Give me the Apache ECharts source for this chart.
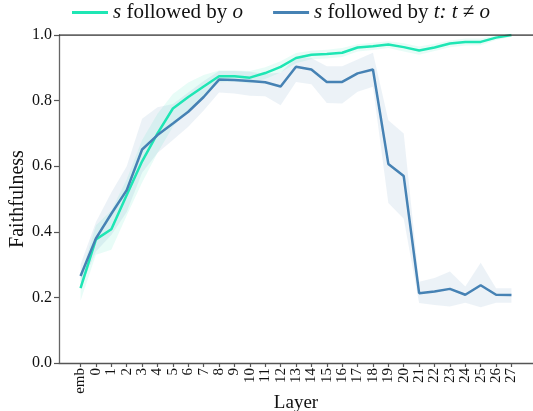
<!DOCTYPE html>
<html>
<head>
<meta charset="utf-8">
<script src="https://cdn.jsdelivr.net/npm/echarts@6/dist/echarts.min.js"></script>
<style>html,body{margin:0;padding:0;background:#fff;}#c{width:533px;height:411px;}</style>
</head>
<body>
<div id="c"></div>
<script>
const layers = ['emb','0','1','2','3','4','5','6','7','8','9','10','11','12','13','14','15','16','17','18','19','20','21','22','23','24','25','26','27'];

const sFollowedByO = [0.228,0.377,0.408,0.512,0.615,0.700,0.776,0.811,0.843,0.874,0.874,0.870,0.884,0.903,0.930,0.940,0.942,0.946,0.962,0.966,0.971,0.963,0.953,0.962,0.974,0.979,0.979,0.992,1.000];
const sFollowedByOUpper = [0.265,0.420,0.465,0.560,0.680,0.760,0.820,0.855,0.878,0.892,0.892,0.890,0.902,0.920,0.945,0.952,0.955,0.960,0.972,0.976,0.981,0.975,0.965,0.973,0.983,0.989,0.989,0.998,1.004];
const sFollowedByOLower = [0.190,0.330,0.345,0.450,0.550,0.640,0.720,0.770,0.810,0.855,0.858,0.852,0.866,0.886,0.914,0.926,0.928,0.933,0.950,0.954,0.960,0.950,0.940,0.951,0.963,0.968,0.969,0.985,0.995];

const sFollowedByT = [0.265,0.380,0.455,0.527,0.651,0.695,0.730,0.766,0.811,0.864,0.863,0.860,0.856,0.843,0.903,0.895,0.857,0.857,0.883,0.895,0.607,0.570,0.213,0.218,0.226,0.208,0.237,0.208,0.207];
const sFollowedByTUpper = [0.300,0.430,0.520,0.600,0.745,0.780,0.790,0.825,0.860,0.890,0.890,0.888,0.882,0.885,0.932,0.930,0.905,0.905,0.925,0.946,0.740,0.700,0.248,0.259,0.279,0.233,0.306,0.228,0.228];
const sFollowedByTLower = [0.230,0.340,0.390,0.460,0.580,0.640,0.680,0.720,0.770,0.825,0.822,0.815,0.813,0.786,0.857,0.850,0.793,0.791,0.827,0.842,0.488,0.440,0.183,0.177,0.172,0.184,0.170,0.184,0.184];

const GREEN = '#1ee6b4';
const BLUE = '#4682b4';

function bandSeries(upper, lower, color) {
  return {
    type: 'custom',
    silent: true,
    z: 1,
    data: [0],
    renderItem: function (params, api) {
      const pts = [];
      for (let i = 0; i < upper.length; i++) pts.push(api.coord([i, upper[i]]));
      for (let i = lower.length - 1; i >= 0; i--) pts.push(api.coord([i, lower[i]]));
      return {
        type: 'polygon',
        shape: { points: pts },
        style: { fill: color, opacity: 0.1, stroke: null }
      };
    },
    clip: true
  };
}

const chart = echarts.init(document.getElementById('c'), null, { renderer: 'canvas' });
const font = 'Liberation Serif';
chart.setOption({
  animation: false,
  textStyle: { fontFamily: font },
  grid: { left: 59, right: 0, top: 35, bottom: 48, containLabel: false, outerBoundsMode: 'none' },
  legend: {
    left: 72,
    top: 2,
    padding: 0,
    itemWidth: 36,
    itemHeight: 3,
    itemGap: 30,
    icon: 'rect',
    textStyle: {
      fontFamily: font, fontSize: 21, color: '#111',
      rich: { i: { fontFamily: font, fontStyle: 'italic', fontSize: 21, color: '#111' } }
    },
    data: [
      { name: 'o', itemStyle: { color: GREEN } },
      { name: 't', itemStyle: { color: BLUE } }
    ],
    formatter: function (n) {
      return n === 'o' ? '{i|s} followed by {i|o}' : '{i|s} followed by {i|t:} {i|t} \u2260 {i|o}';
    }
  },
  xAxis: {
    type: 'value',
    min: -1.4,
    max: 29.4,
    name: 'Layer',
    nameLocation: 'middle',
    nameGap: 31,
    nameMoveOverlap: false,
    nameTextStyle: { fontFamily: font, fontSize: 19, color: '#111', verticalAlign: 'top' },
    axisLine: { show: true, onZero: false, lineStyle: { color: '#555', width: 1.3 } },
    axisTick: { show: true, length: 4, lineStyle: { color: '#555', width: 1.2 }, customValues: layers.map((_, i) => i) },
    axisLabel: {
      rotate: 90,
      margin: 5,
      fontFamily: font,
      fontSize: 15,
      color: '#111',
      customValues: layers.map((_, i) => i),
      formatter: function (v) { return layers[Math.round(v)]; }
    },
    splitLine: { show: false }
  },
  yAxis: {
    type: 'value',
    min: 0,
    max: 1,
    interval: 0.2,
    name: 'Faithfulness',
    nameLocation: 'middle',
    nameGap: 31,
    nameMoveOverlap: false,
    nameTextStyle: { fontFamily: font, fontSize: 20, color: '#111' },
    axisLine: { show: true, onZero: false, lineStyle: { color: '#666', width: 1.3 } },
    axisTick: { show: true, length: 5, lineStyle: { color: '#555', width: 1.2 } },
    axisLabel: {
      margin: 7,
      fontFamily: font,
      fontSize: 16,
      color: '#111',
      formatter: function (v) { return v.toFixed(1); }
    },
    splitLine: { show: false }
  },
  series: [
    bandSeries(sFollowedByOUpper, sFollowedByOLower, GREEN),
    bandSeries(sFollowedByTUpper, sFollowedByTLower, BLUE),
    {
      name: 'o', type: 'line', z: 3,
      data: sFollowedByO.map((v, i) => [i, v]),
      showSymbol: false, symbol: 'none',
      lineStyle: { color: GREEN, width: 2.5 },
      itemStyle: { color: GREEN }
    },
    {
      name: 't', type: 'line', z: 4,
      data: sFollowedByT.map((v, i) => [i, v]),
      showSymbol: false, symbol: 'none',
      lineStyle: { color: BLUE, width: 2.5 },
      itemStyle: { color: BLUE }
    },
    {
      type: 'line', silent: true, z: 5,
      data: [[-1.4, 1], [29.4, 1]],
      symbol: 'none',
      lineStyle: { color: '#333', width: 1.3 }
    }
  ]
});
</script>
</body>
</html>
